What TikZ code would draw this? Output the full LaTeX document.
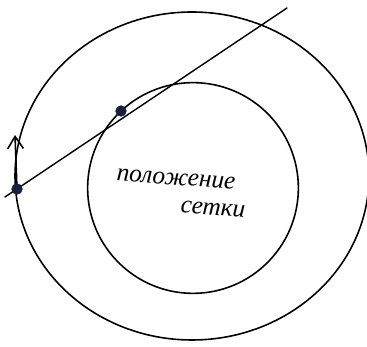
\documentclass[tikz,border=0pt]{standalone}
\usepackage{fontspec}
\setmainfont{Liberation Serif}
\usetikzlibrary{arrows.meta,calc}
\usepackage{tkz-euclide}
\definecolor{DotClr}{rgb}{0.1,0.13,0.25}

\begin{document}
\begin{tikzpicture}
\tkzSetUpLine[line width=0.9pt,color=black]

\useasboundingbox (0,0) rectangle (7.34,6.94);

\tkzDefPoints{3.84/3.42/O,3.86/3.18/Q,0.10/3.00/L,5.74/6.78/K,0.34/3.16/A,2.42/4.72/B,0.30/4.24/T}

% outer orbit and inner circle
\draw[line width=0.9pt] (O) ellipse [x radius=3.54cm, y radius=3.28cm];
\tkzDrawCircle[line width=0.9pt,color=black](Q,B)

\tkzDrawSegment[line width=0.8pt](L,K)
\draw[line width=0.9pt,-{Straight Barb[length=7pt,width=9pt]}] (A) -- (T);

\tkzDrawPoints[size=6,color=DotClr,fill=DotClr](A,B)

\node[font=\itshape\Large,rotate=-4,inner sep=1pt] (pos) at (3.52,3.36) {положение};
\node[font=\itshape\Large,rotate=-4,inner sep=1pt] (set) at (4.26,2.76) {сетки};

\end{tikzpicture}
\end{document}
